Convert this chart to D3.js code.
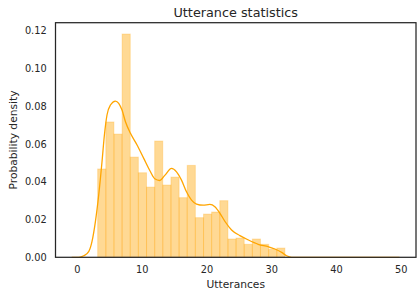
<!DOCTYPE html>
<html>
<head>
<meta charset="utf-8">
<script src="https://cdn.jsdelivr.net/npm/d3@7"></script>
<style>
  html, body { margin: 0; padding: 0; background: #fff; }
  svg { display: block; }
  text { font-family: "DejaVu Sans", sans-serif; fill: #262626; }
</style>
</head>
<body>
<svg id="chart" width="418" height="293"></svg>
<script>
// Histogram bin edges (Utterances) and densities
const binEdges = [3.21, 4.47, 5.72, 6.98, 8.24, 9.49, 10.75, 12.01, 13.26, 14.52, 15.78, 17.03,
  18.29, 19.55, 20.80, 22.06, 23.32, 24.57, 25.83, 27.09, 28.34, 29.60, 30.86, 32.11];
const binDensity = [0.0468, 0.0717, 0.0653, 0.1183, 0.0531, 0.0448, 0.0372, 0.0616, 0.0383, 0.0425,
  0.0316, 0.0487, 0.0210, 0.0229, 0.0240, 0.0300, 0.0097, 0.0102, 0.0069, 0.0097, 0.0069, 0.0042, 0.0049];

// KDE curve samples
const kdeX = [-0.8, 0.0, 0.5, 1.05, 1.82, 2.33, 2.86, 3.37, 3.88, 4.25, 4.65, 5.18, 5.95, 6.46, 6.97,
  7.50, 8.27, 9.29, 10.32, 11.36, 12.02, 12.80, 13.57, 14.61, 15.38, 16.15, 16.92, 17.70, 18.47,
  19.49, 20.53, 21.30, 22.07, 22.84, 23.88, 25.16, 26.45, 27.99, 29.54, 30.57, 31.61, 32.38, 33.15,
  35.0, 49.8];
const kdeY = [0, 0, 0.0001, 0.0008, 0.0030, 0.0083, 0.0189, 0.0330, 0.0506, 0.0648, 0.0754, 0.0807,
  0.0828, 0.0816, 0.0780, 0.0718, 0.0657, 0.0595, 0.0524, 0.0453, 0.0416, 0.0407, 0.0434, 0.0471,
  0.0453, 0.0409, 0.0347, 0.0303, 0.0282, 0.0276, 0.0280, 0.0268, 0.0234, 0.0191, 0.0145, 0.0115,
  0.0092, 0.0069, 0.0056, 0.0044, 0.0026, 0.0008, 0, 0, 0];

const xTicks = [0, 10, 20, 30, 40, 50];
const yTicks = [0, 0.02, 0.04, 0.06, 0.08, 0.10, 0.12];

const title = "Utterance statistics";
const xLabel = "Utterances";
const yLabel = "Probability density";

const svg = d3.select("#chart");
const L = 55.5, R = 416, T = 22.7, B = 257.3;

const x = d3.scaleLinear().domain([-3.3, 52.35]).range([L, R]);
const y = d3.scaleLinear().domain([0, 0.1243]).range([B, T]);

// bars
const bins = binDensity.map((d, i) => ({x0: binEdges[i], x1: binEdges[i + 1], d}));
svg.append("g").selectAll("rect").data(bins).join("rect")
  .attr("x", b => x(b.x0))
  .attr("y", b => y(b.d))
  .attr("width", b => x(b.x1) - x(b.x0))
  .attr("height", b => y(0) - y(b.d))
  .attr("fill", "#FFA500")
  .attr("fill-opacity", 0.42)
  .attr("stroke", "#FFA500")
  .attr("stroke-opacity", 0.25)
  .attr("stroke-width", 1);

// kde
const pts = kdeX.map((v, i) => [v, kdeY[i]]);
svg.append("path")
  .datum(pts)
  .attr("fill", "none")
  .attr("stroke", "#FFA500")
  .attr("stroke-width", 1.3)
  .attr("d", d3.line().x(p => x(p[0])).y(p => y(p[1])).curve(d3.curveMonotoneX));

// axes
const xAxis = svg.append("g").attr("transform", `translate(0,${B})`)
  .call(d3.axisBottom(x).tickValues(xTicks).tickSize(0).tickPadding(9.2).tickFormat(d3.format("d")));
const yAxis = svg.append("g").attr("transform", `translate(${L},0)`)
  .call(d3.axisLeft(y).tickValues(yTicks).tickSize(0).tickPadding(8.8).tickFormat(d3.format(".2f")));
[xAxis, yAxis].forEach(g => {
  g.select(".domain").remove();
  g.selectAll("text").attr("font-family", "DejaVu Sans").attr("font-size", 9.8).attr("fill", "#262626");
});

// spines
svg.append("rect")
  .attr("x", L).attr("y", T).attr("width", R - L).attr("height", B - T)
  .attr("fill", "none").attr("stroke", "#262626").attr("stroke-width", 1.25);

// labels
svg.append("text").attr("x", (L + R) / 2).attr("y", 17)
  .attr("text-anchor", "middle").attr("font-size", 12.8).text(title);
svg.append("text").attr("x", (L + R) / 2).attr("y", 288)
  .attr("text-anchor", "middle").attr("font-size", 10.7).text(xLabel);
svg.append("text").attr("transform", `translate(17.1,${(T + B) / 2}) rotate(-90)`)
  .attr("text-anchor", "middle").attr("font-size", 10.7).text(yLabel);
</script>
</body>
</html>
